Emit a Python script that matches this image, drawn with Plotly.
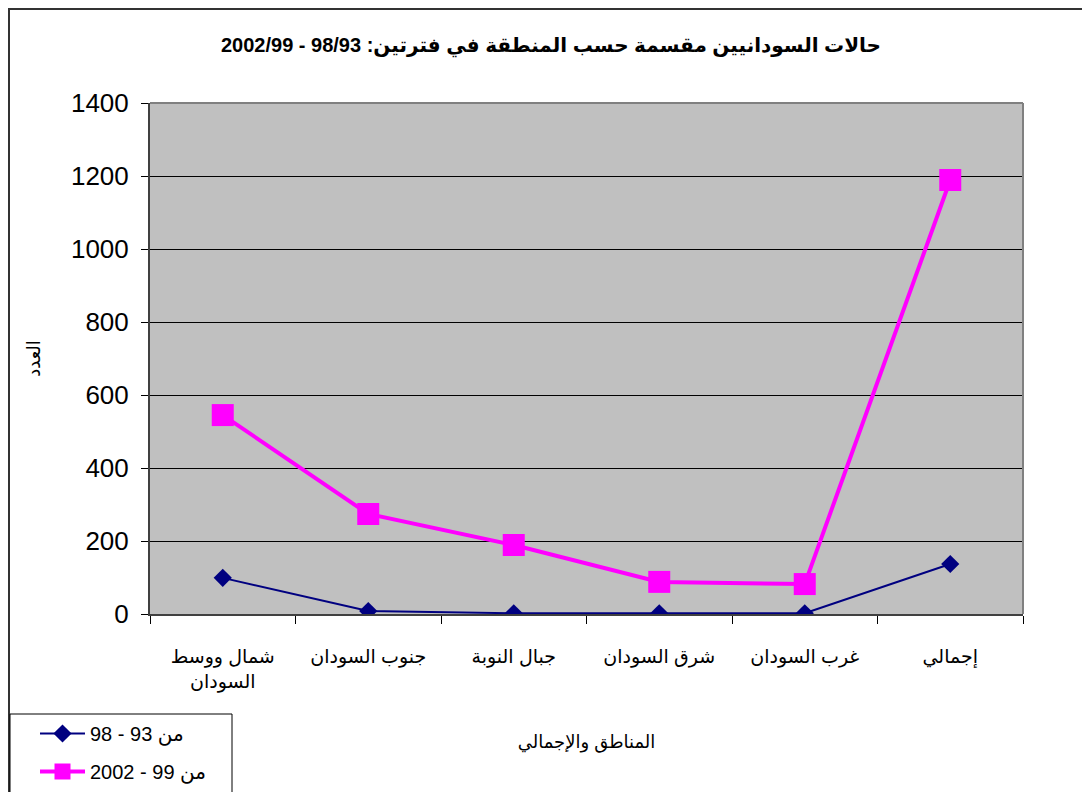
import plotly.graph_objects as go

RLE = "\u202b"
PDF = "\u202c"

categories = ["شمال ووسط<br>السودان", "جنوب السودان", "جبال النوبة", "شرق السودان", "غرب السودان", "إجمالي"]
series_93_98 = [99, 8, 2, 2, 2, 137]
series_99_2002 = [545, 274, 189, 88, 82, 1189]
name_93_98 = RLE + "من 93 - 98" + PDF
name_99_2002 = RLE + "من 99 - 2002" + PDF
title_text = RLE + "حالات السودانيين مقسمة حسب المنطقة في فترتين: 98/93 - 2002/99" + PDF
y_title = "العدد"
x_title = "المناطق والإجمالي"
y_ticks = [0, 200, 400, 600, 800, 1000, 1200, 1400]

FONT = "Liberation Sans, Arial, DejaVu Sans, sans-serif"
W, H = 1090, 792
O = 8  # page body offset
L, T = 150 - O, 103 - O
PW, PH = 873, 511
R = W - L - PW
B = H - T - PH

def px_x(x):
    return (x - O - L) / PW

def px_y(y):
    return (T + PH - (y - O)) / PH

fig = go.Figure()
fig.add_trace(go.Scatter(
    x=categories, y=series_93_98, name=name_93_98, mode="lines+markers", legendgroup="a",
    line=dict(color="#000080", width=2),
    marker=dict(symbol="diamond", size=14, color="#000080"),
))
fig.add_trace(go.Scatter(
    x=categories, y=series_99_2002, name=name_99_2002, mode="lines+markers", legendgroup="b",
    line=dict(color="#FF00FF", width=4),
    marker=dict(symbol="square", size=22, color="#FF00FF"),
))

fig.update_layout(
    width=W, height=H,
    margin=dict(l=L, r=R, t=T, b=B, autoexpand=False),
    paper_bgcolor="white",
    plot_bgcolor="#C0C0C0",
    font=dict(family=FONT, color="black", size=18),
    title=dict(text=title_text, x=(551 - O) / W, xanchor="center", y=1 - (45 - O) / H, yanchor="middle",
               font=dict(size=20, family=FONT, weight="bold")),
    showlegend=True,
    legend=dict(x=px_x(35), y=px_y(714), xanchor="left", yanchor="top",
                borderwidth=0, bgcolor="rgba(0,0,0,0)",
                font=dict(size=20, family=FONT), tracegroupgap=9, itemwidth=45),
    xaxis=dict(
        type="category", showgrid=False, showline=True, linecolor="#404040", linewidth=2,
        ticks="outside", tickson="boundaries", ticklen=8, tickcolor="black",
        tickfont=dict(size=19), ticklabelstandoff=24,
        title=dict(text=x_title, font=dict(size=18), standoff=44),
        zeroline=False, range=[-0.5, 5.5],
    ),
    yaxis=dict(
        range=[0, 1400], tickvals=y_ticks, showgrid=True, gridcolor="black", gridwidth=1,
        showline=True, linecolor="#404040", linewidth=2, zeroline=False,
        ticks="outside", ticklen=7, tickcolor="black",
        tickfont=dict(size=26), ticklabelstandoff=7,
        title=dict(text=y_title, font=dict(size=18), standoff=26),
    ),
    shapes=[
        dict(type="rect", xref="paper", yref="paper", x0=px_x(9), x1=px_x(1110), y0=px_y(810), y1=px_y(9),
             line=dict(color="#333333", width=2), layer="below"),
        dict(type="rect", xref="paper", yref="paper", x0=px_x(10), x1=px_x(232), y0=px_y(810), y1=px_y(714),
             line=dict(color="black", width=1), fillcolor="white", layer="below"),
        dict(type="line", xref="paper", yref="paper", x0=0, x1=1, y0=1, y1=1,
             line=dict(color="#808080", width=2), layer="above"),
        dict(type="line", xref="paper", yref="paper", x0=1, x1=1, y0=0, y1=1,
             line=dict(color="#808080", width=2), layer="above"),
    ],
)

fig.write_html("out.html")
